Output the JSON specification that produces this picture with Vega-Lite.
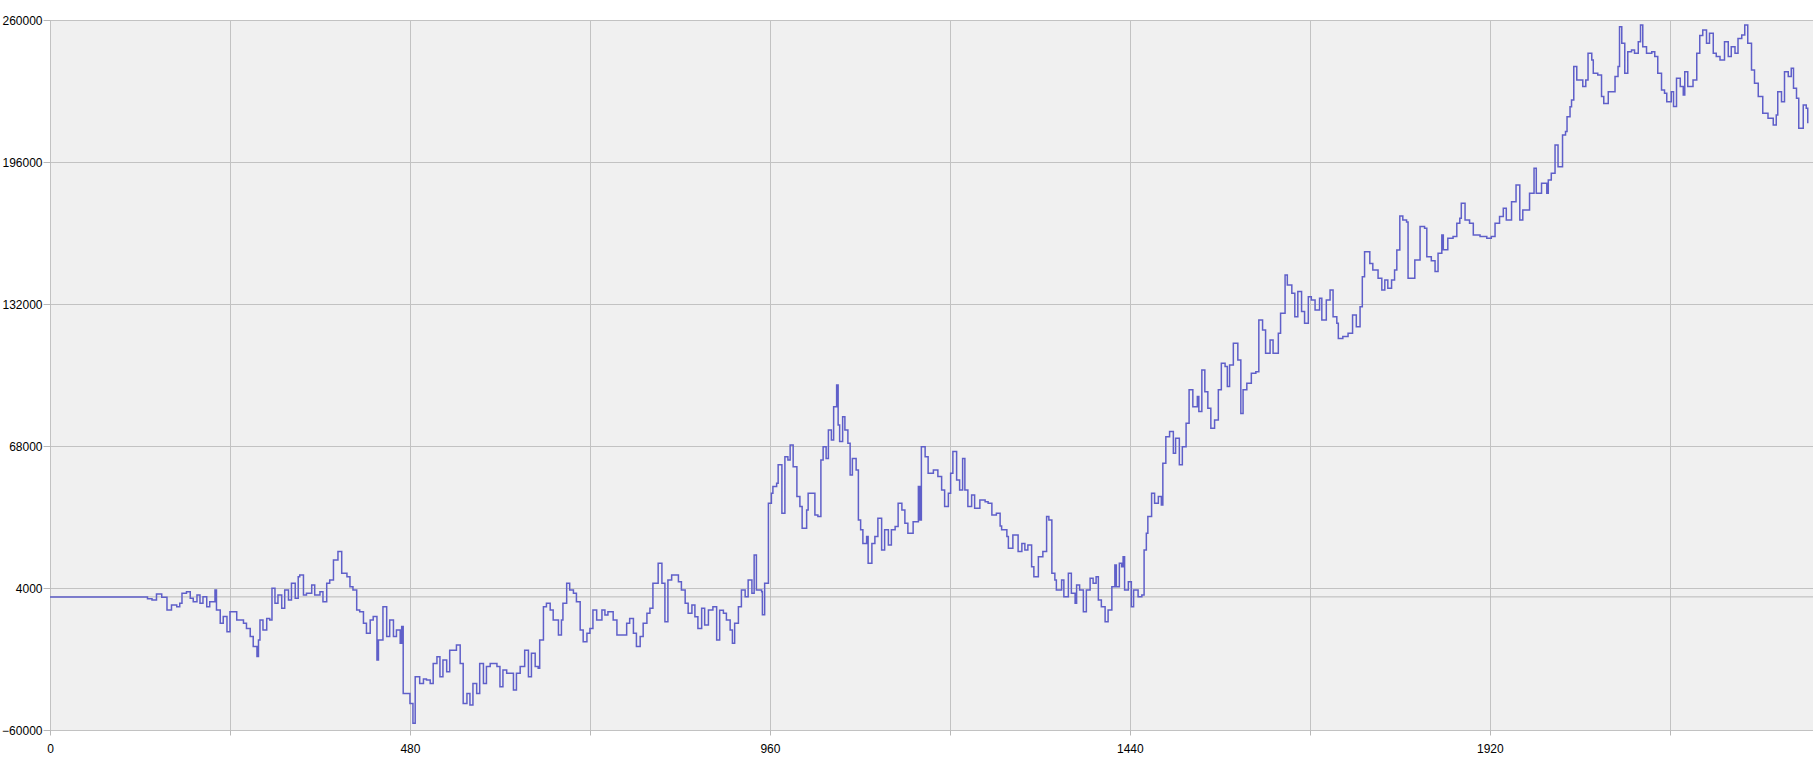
{
  "$schema": "https://vega.github.io/schema/vega-lite/v6.json",
  "width": 1763,
  "height": 710,
  "autosize": "none",
  "padding": {"left": 50, "top": 20, "right": 0, "bottom": 36},
  "background": "white",
  "config": {
    "view": {"fill": "#f0f0f0", "stroke": "#b8b8b8", "strokeWidth": 1},
    "axis": {
      "title": null,
      "domain": false,
      "grid": true,
      "gridColor": "#c2c2c2",
      "gridWidth": 1,
      "tickColor": "#b8b8b8",
      "labelFont": "Liberation Sans",
      "labelFontSize": 12,
      "labelColor": "#000000",
      "labelOverlap": false,
      "labelFlush": false,
      "format": "d"
    }
  },
  "layer": [
    {
      "data": {"values": [{"base": 0}]},
      "mark": {"type": "rule", "color": "#b8b8b8", "strokeWidth": 1},
      "encoding": {
        "y": {
          "field": "base",
          "type": "quantitative",
          "scale": {"domain": [-60000, 260000], "nice": false, "zero": false},
          "axis": {"values": [-60000, 4000, 68000, 132000, 196000, 260000], "tickSize": 7, "labelPadding": 1}
        }
      }
    },
    {
      "data": {"values": [
        {"x":0,"y":0},{"x":120,"y":0},{"x":124,"y":0},{"x":130,"y":-800},{"x":136,"y":-1400},{"x":142,"y":1300},{"x":149,"y":-200},{"x":156,"y":-5900},{"x":162,"y":-3650},{"x":169,"y":-4400},{"x":173,"y":-2900},{"x":176,"y":1600},{"x":182,"y":2350},{"x":187,"y":-650},{"x":191,"y":-2150},{"x":196,"y":850},{"x":200,"y":-2900},{"x":204,"y":100},{"x":209,"y":-4400},{"x":213,"y":-2150},{"x":220,"y":3100},{"x":222,"y":-5900},{"x":227,"y":-11900},{"x":231,"y":-8900},{"x":236,"y":-15700},{"x":240,"y":-6650},{"x":249,"y":-10400},{"x":258,"y":-11900},{"x":262,"y":-14200},{"x":267,"y":-17900},{"x":271,"y":-22400},{"x":276,"y":-26900},{"x":278,"y":-19400},{"x":280,"y":-10400},{"x":284,"y":-14900},{"x":289,"y":-9700},{"x":293,"y":-10400},{"x":296,"y":3850},{"x":300,"y":-2900},{"x":304,"y":850},{"x":309,"y":-5150},{"x":313,"y":3100},{"x":318,"y":-1400},{"x":322,"y":6100},{"x":327,"y":-650},{"x":331,"y":9100},{"x":333,"y":9900},{"x":338,"y":850},{"x":342,"y":1600},{"x":349,"y":5350},{"x":353,"y":850},{"x":360,"y":2350},{"x":364,"y":-2150},{"x":369,"y":6100},{"x":373,"y":7600},{"x":378,"y":16600},{"x":384,"y":20400},{"x":389,"y":10600},{"x":396,"y":9100},{"x":400,"y":4600},{"x":404,"y":3100},{"x":409,"y":-5900},{"x":413,"y":-6650},{"x":418,"y":-11900},{"x":422,"y":-16400},{"x":427,"y":-10400},{"x":431,"y":-8900},{"x":436,"y":-28400},{"x":438,"y":-19400},{"x":444,"y":-4400},{"x":449,"y":-17900},{"x":453,"y":-10400},{"x":458,"y":-17900},{"x":462,"y":-14900},{"x":467,"y":-20900},{"x":469,"y":-13400},{"x":471,"y":-43500},{"x":476,"y":-43500},{"x":480,"y":-48000},{"x":484,"y":-57000},{"x":487,"y":-36000},{"x":493,"y":-39000},{"x":498,"y":-37000},{"x":502,"y":-37500},{"x":507,"y":-39000},{"x":511,"y":-30000},{"x":516,"y":-27000},{"x":520,"y":-36000},{"x":524,"y":-28400},{"x":529,"y":-33700},{"x":533,"y":-24000},{"x":542,"y":-21700},{"x":547,"y":-30000},{"x":551,"y":-48000},{"x":556,"y":-43500},{"x":560,"y":-48700},{"x":564,"y":-39000},{"x":569,"y":-43500},{"x":573,"y":-30000},{"x":578,"y":-39000},{"x":582,"y":-31400},{"x":587,"y":-30000},{"x":596,"y":-31400},{"x":600,"y":-40500},{"x":604,"y":-33000},{"x":609,"y":-34400},{"x":618,"y":-42000},{"x":622,"y":-34400},{"x":627,"y":-31400},{"x":633,"y":-24000},{"x":638,"y":-36000},{"x":642,"y":-25400},{"x":647,"y":-31400},{"x":651,"y":-32200},{"x":653,"y":-19400},{"x":658,"y":-4400},{"x":662,"y":-2900},{"x":667,"y":-5900},{"x":671,"y":-10400},{"x":678,"y":-17200},{"x":682,"y":-10400},{"x":684,"y":-2900},{"x":689,"y":6100},{"x":693,"y":3100},{"x":698,"y":1600},{"x":702,"y":-2150},{"x":707,"y":-14900},{"x":711,"y":-20200},{"x":716,"y":-16400},{"x":720,"y":-14200},{"x":724,"y":-5900},{"x":729,"y":-10400},{"x":736,"y":-5900},{"x":740,"y":-8200},{"x":744,"y":-6650},{"x":751,"y":-10400},{"x":756,"y":-17200},{"x":764,"y":-17200},{"x":769,"y":-11900},{"x":773,"y":-9700},{"x":778,"y":-16400},{"x":782,"y":-22400},{"x":787,"y":-17900},{"x":791,"y":-11900},{"x":796,"y":-7400},{"x":800,"y":-5150},{"x":804,"y":6100},{"x":811,"y":15100},{"x":816,"y":6100},{"x":820,"y":-11200},{"x":824,"y":7600},{"x":829,"y":9900},{"x":838,"y":6850},{"x":842,"y":3100},{"x":847,"y":-2900},{"x":851,"y":-7400},{"x":856,"y":-3650},{"x":860,"y":-9000},{"x":864,"y":-14200},{"x":869,"y":-5150},{"x":873,"y":-12700},{"x":878,"y":-5900},{"x":884,"y":-4400},{"x":889,"y":-19400},{"x":893,"y":-6000},{"x":898,"y":-7400},{"x":902,"y":-10400},{"x":907,"y":-14900},{"x":910,"y":-20900},{"x":913,"y":-11900},{"x":918,"y":-4400},{"x":922,"y":3100},{"x":927,"y":100},{"x":931,"y":7600},{"x":936,"y":1600},{"x":939,"y":18900},{"x":942,"y":3100},{"x":949,"y":2350},{"x":950,"y":-8100},{"x":953,"y":6100},{"x":958,"y":42200},{"x":962,"y":46700},{"x":964,"y":49700},{"x":969,"y":51200},{"x":971,"y":59500},{"x":976,"y":37700},{"x":980,"y":63200},{"x":984,"y":61700},{"x":987,"y":68500},{"x":991,"y":58700},{"x":996,"y":45200},{"x":1000,"y":40700},{"x":1003,"y":30900},{"x":1009,"y":39200},{"x":1011,"y":46700},{"x":1016,"y":46700},{"x":1020,"y":36900},{"x":1024,"y":36200},{"x":1028,"y":61700},{"x":1031,"y":67700},{"x":1035,"y":62400},{"x":1038,"y":75200},{"x":1042,"y":70700},{"x":1045,"y":85700},{"x":1049,"y":95500},{"x":1051,"y":77500},{"x":1053,"y":70000},{"x":1057,"y":81200},{"x":1060,"y":75200},{"x":1064,"y":69200},{"x":1067,"y":54900},{"x":1070,"y":62400},{"x":1075,"y":57200},{"x":1078,"y":34700},{"x":1081,"y":30200},{"x":1084,"y":24100},{"x":1089,"y":27200},{"x":1091,"y":15100},{"x":1096,"y":24100},{"x":1100,"y":27200},{"x":1104,"y":35400},{"x":1109,"y":21100},{"x":1113,"y":30200},{"x":1118,"y":23400},{"x":1122,"y":30200},{"x":1127,"y":31700},{"x":1131,"y":42200},{"x":1136,"y":39200},{"x":1140,"y":33200},{"x":1144,"y":28700},{"x":1151,"y":33900},{"x":1158,"y":49700},{"x":1160,"y":34700},{"x":1162,"y":67700},{"x":1167,"y":63200},{"x":1171,"y":55700},{"x":1178,"y":57200},{"x":1184,"y":54200},{"x":1189,"y":48200},{"x":1193,"y":40700},{"x":1198,"y":46700},{"x":1201,"y":55700},{"x":1204,"y":65500},{"x":1209,"y":52700},{"x":1213,"y":48200},{"x":1217,"y":62400},{"x":1220,"y":48200},{"x":1224,"y":40700},{"x":1229,"y":45900},{"x":1233,"y":39900},{"x":1240,"y":43700},{"x":1247,"y":42900},{"x":1251,"y":42200},{"x":1256,"y":36900},{"x":1262,"y":37700},{"x":1267,"y":32000},{"x":1269,"y":30200},{"x":1276,"y":27200},{"x":1278,"y":21900},{"x":1284,"y":27900},{"x":1291,"y":20400},{"x":1296,"y":24100},{"x":1300,"y":21100},{"x":1304,"y":23400},{"x":1309,"y":13600},{"x":1312,"y":9100},{"x":1318,"y":18100},{"x":1324,"y":20400},{"x":1329,"y":36200},{"x":1332,"y":34700},{"x":1336,"y":10600},{"x":1340,"y":7600},{"x":1342,"y":3100},{"x":1349,"y":7600},{"x":1352,"y":100},{"x":1358,"y":10600},{"x":1362,"y":1600},{"x":1367,"y":-2900},{"x":1369,"y":5350},{"x":1373,"y":3100},{"x":1378,"y":-6650},{"x":1382,"y":3100},{"x":1387,"y":8400},{"x":1391,"y":6100},{"x":1395,"y":9100},{"x":1398,"y":-1400},{"x":1402,"y":-4400},{"x":1407,"y":-11200},{"x":1411,"y":-5900},{"x":1416,"y":4600},{"x":1420,"y":14400},{"x":1422,"y":4600},{"x":1426,"y":15100},{"x":1429,"y":13600},{"x":1431,"y":18100},{"x":1433,"y":3100},{"x":1438,"y":6850},{"x":1442,"y":-4400},{"x":1445,"y":3100},{"x":1451,"y":100},{"x":1456,"y":850},{"x":1459,"y":21100},{"x":1462,"y":28700},{"x":1464,"y":36200},{"x":1469,"y":46700},{"x":1473,"y":42200},{"x":1478,"y":45200},{"x":1482,"y":41400},{"x":1484,"y":60200},{"x":1488,"y":72200},{"x":1493,"y":74500},{"x":1498,"y":64700},{"x":1501,"y":71500},{"x":1506,"y":59500},{"x":1510,"y":67700},{"x":1515,"y":78200},{"x":1519,"y":93300},{"x":1524,"y":85700},{"x":1530,"y":90300},{"x":1532,"y":83500},{"x":1536,"y":102300},{"x":1540,"y":92500},{"x":1544,"y":85000},{"x":1548,"y":76000},{"x":1553,"y":79700},{"x":1558,"y":93300},{"x":1562,"y":105300},{"x":1567,"y":103800},{"x":1570,"y":94800},{"x":1573,"y":104500},{"x":1578,"y":114300},{"x":1581,"y":114300},{"x":1584,"y":106800},{"x":1588,"y":82700},{"x":1591,"y":93300},{"x":1596,"y":96300},{"x":1602,"y":100800},{"x":1608,"y":101500},{"x":1612,"y":124800},{"x":1617,"y":120300},{"x":1621,"y":109800},{"x":1627,"y":115800},{"x":1631,"y":109800},{"x":1638,"y":118800},{"x":1641,"y":127800},{"x":1647,"y":145100},{"x":1650,"y":140600},{"x":1656,"y":136800},{"x":1660,"y":126300},{"x":1664,"y":137600},{"x":1669,"y":128600},{"x":1673,"y":123300},{"x":1678,"y":135300},{"x":1682,"y":133800},{"x":1687,"y":129300},{"x":1693,"y":134600},{"x":1696,"y":124800},{"x":1702,"y":133800},{"x":1707,"y":138300},{"x":1711,"y":126300},{"x":1716,"y":123300},{"x":1718,"y":116500},{"x":1724,"y":117300},{"x":1731,"y":118800},{"x":1737,"y":127000},{"x":1742,"y":121800},{"x":1747,"y":130800},{"x":1750,"y":144300},{"x":1753,"y":155600},{"x":1760,"y":150300},{"x":1764,"y":147300},{"x":1771,"y":143600},{"x":1776,"y":138300},{"x":1780,"y":142800},{"x":1784,"y":139100},{"x":1789,"y":142800},{"x":1793,"y":147300},{"x":1796,"y":156300},{"x":1800,"y":171700},{"x":1804,"y":169900},{"x":1809,"y":169000},{"x":1811,"y":143600},{"x":1816,"y":143600},{"x":1820,"y":151800},{"x":1827,"y":166900},{"x":1833,"y":166100},{"x":1836,"y":153300},{"x":1842,"y":151500},{"x":1847,"y":146600},{"x":1851,"y":154900},{"x":1856,"y":163100},{"x":1858,"y":156400},{"x":1864,"y":161600},{"x":1871,"y":162400},{"x":1876,"y":168400},{"x":1880,"y":170600},{"x":1882,"y":177400},{"x":1887,"y":169900},{"x":1893,"y":168400},{"x":1898,"y":163100},{"x":1907,"y":162400},{"x":1916,"y":161600},{"x":1922,"y":162400},{"x":1927,"y":168400},{"x":1933,"y":171400},{"x":1938,"y":175100},{"x":1942,"y":169900},{"x":1949,"y":178100},{"x":1955,"y":185600},{"x":1960,"y":169900},{"x":1964,"y":174400},{"x":1969,"y":174400},{"x":1973,"y":181900},{"x":1979,"y":193200},{"x":1982,"y":181900},{"x":1989,"y":186400},{"x":1996,"y":181900},{"x":1998,"y":187900},{"x":2002,"y":190900},{"x":2007,"y":203700},{"x":2011,"y":193900},{"x":2016,"y":193900},{"x":2017,"y":208200},{"x":2021,"y":209700},{"x":2023,"y":216400},{"x":2027,"y":220900},{"x":2029,"y":224000},{"x":2032,"y":239000},{"x":2036,"y":233000},{"x":2040,"y":233000},{"x":2044,"y":230000},{"x":2048,"y":233000},{"x":2051,"y":245000},{"x":2056,"y":242000},{"x":2058,"y":236000},{"x":2064,"y":235200},{"x":2069,"y":225500},{"x":2072,"y":222400},{"x":2078,"y":227700},{"x":2082,"y":227700},{"x":2087,"y":234500},{"x":2091,"y":239000},{"x":2093,"y":257000},{"x":2096,"y":249500},{"x":2100,"y":236000},{"x":2104,"y":245700},{"x":2109,"y":246500},{"x":2113,"y":245000},{"x":2118,"y":250200},{"x":2121,"y":257700},{"x":2124,"y":248000},{"x":2129,"y":245000},{"x":2136,"y":245700},{"x":2140,"y":243500},{"x":2144,"y":236000},{"x":2149,"y":228500},{"x":2153,"y":227000},{"x":2156,"y":223200},{"x":2162,"y":227700},{"x":2165,"y":221000},{"x":2169,"y":233700},{"x":2174,"y":230000},{"x":2178,"y":226200},{"x":2180,"y":236700},{"x":2184,"y":230000},{"x":2191,"y":233000},{"x":2196,"y":245000},{"x":2200,"y":253000},{"x":2204,"y":255500},{"x":2209,"y":249500},{"x":2213,"y":254000},{"x":2218,"y":245000},{"x":2222,"y":243500},{"x":2227,"y":242000},{"x":2233,"y":250200},{"x":2238,"y":243500},{"x":2242,"y":248000},{"x":2247,"y":245000},{"x":2251,"y":251700},{"x":2256,"y":253200},{"x":2260,"y":257700},{"x":2264,"y":249500},{"x":2269,"y":237500},{"x":2273,"y":231500},{"x":2278,"y":225500},{"x":2284,"y":218000},{"x":2291,"y":215700},{"x":2298,"y":212700},{"x":2302,"y":217200},{"x":2304,"y":227700},{"x":2309,"y":223200},{"x":2313,"y":236700},{"x":2318,"y":234500},{"x":2322,"y":238200},{"x":2325,"y":229200},{"x":2329,"y":224700},{"x":2332,"y":211200},{"x":2338,"y":221700},{"x":2342,"y":220200},{"x":2344,"y":213500}
      ]},
      "mark": {"type": "line", "color": "#5f5fc9", "strokeWidth": 1.5, "interpolate": "step-after"},
      "encoding": {
        "x": {
          "field": "x",
          "type": "quantitative",
          "scale": {"domain": [0, 2351], "nice": false, "zero": false},
          "axis": {
            "values": [0, 240, 480, 720, 960, 1200, 1440, 1680, 1920, 2160],
            "labelExpr": "datum.value % 480 == 0 ? datum.label : ''",
            "tickSize": 5,
            "labelPadding": 8
          }
        },
        "y": {
          "field": "y",
          "type": "quantitative",
          "scale": {"domain": [-60000, 260000], "nice": false, "zero": false},
          "axis": {"values": [-60000, 4000, 68000, 132000, 196000, 260000], "tickSize": 7, "labelPadding": 1}
        }
      }
    }
  ]
}
